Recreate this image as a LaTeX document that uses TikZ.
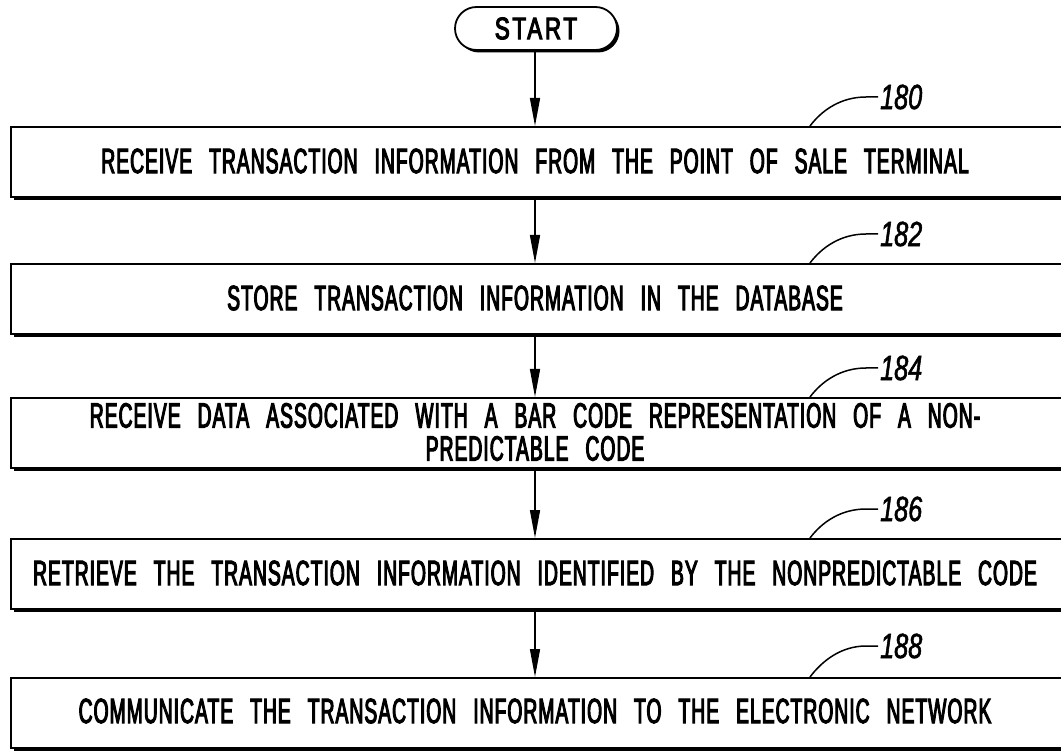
\documentclass[tikz,border=0pt]{standalone}
\usepackage{fontspec}
\setmainfont{Liberation Sans}[FakeStretch=0.55, LetterSpace=3, FakeBold=3]
\newfontfamily\startfont{Liberation Sans}[FakeStretch=0.72, LetterSpace=9, FakeBold=3.5]
\newfontfamily\reffont{Liberation Sans}[FakeStretch=0.72, FakeBold=1.5]
\usetikzlibrary{arrows.meta,shadows,calc}

\tikzset{
  stepbox/.style={draw, line width=1.8pt, fill=white, inner sep=0pt,
    minimum width=1065pt, minimum height=70pt, anchor=north west,
    drop shadow={shadow xshift=3.5pt, shadow yshift=-3.5pt, fill=black, opacity=1}},
  steptext/.style={inner sep=0pt, align=center,
    font={\fontsize{35}{33}\selectfont\spaceskip=17pt\relax}},
  terminal/.style={draw, line width=1.8pt, fill=white, rounded corners=21.5pt,
    minimum width=162pt, minimum height=43pt, inner sep=0pt,
    font={\startfont\fontsize{31}{31}\selectfont},
    drop shadow={shadow xshift=2.5pt, shadow yshift=-2.5pt, fill=black, opacity=1}},
  flow/.style={line width=1.5pt, -{Triangle[length=28pt, width=10pt]}},
  reflabel/.style={inner sep=2pt, anchor=west,
    font={\reffont\itshape\fontsize{35}{35}\selectfont}},
  leader/.style={line width=1.5pt}
}

\begin{document}
\begin{tikzpicture}[x=1pt, y=-1pt]
\useasboundingbox (0,0) rectangle (1061,751);

% start terminal
\node[terminal] (start) at (536,28.5) {START};

% process steps
\node[stepbox] (b1) at (10,126) {};
\node[steptext] (t1) at (535,161) {RECEIVE TRANSACTION INFORMATION FROM THE POINT OF SALE TERMINAL};

\node[stepbox] (b2) at (10,263) {};
\node[steptext] (t2) at (535,298) {STORE TRANSACTION INFORMATION IN THE DATABASE};

\node[stepbox] (b3) at (10,397) {};
\node[steptext] (t3) at (535,432) {RECEIVE DATA ASSOCIATED WITH A BAR CODE REPRESENTATION OF A NON-\\PREDICTABLE CODE};

\node[stepbox] (b4) at (10,538) {};
\node[steptext] (t4) at (535,573) {RETRIEVE THE TRANSACTION INFORMATION IDENTIFIED BY THE NONPREDICTABLE CODE};

\node[stepbox] (b5) at (10,677) {};
\node[steptext] (t5) at (535,711) {COMMUNICATE THE TRANSACTION INFORMATION TO THE ELECTRONIC NETWORK};

% flow arrows
\draw[flow] (start.south -| t1) -- (t1 |- b1.north);
\draw[flow] (t1 |- b1.south) -- (t2 |- b2.north);
\draw[flow] (t2 |- b2.south) -- (t3 |- b3.north);
\draw[flow] (t3 |- b3.south) -- (t4 |- b4.north);
\draw[flow] (t4 |- b4.south) -- (t5 |- b5.north);

% reference numerals with leader lines
\node[reflabel] (r1) at (878,97) {180};
\node[reflabel] (r2) at (878,234) {182};
\node[reflabel] (r3) at (878,368) {184};
\node[reflabel] (r4) at (878,509) {186};
\node[reflabel] (r5) at (878,646) {188};

\foreach \r/\b in {r1/b1, r2/b2, r3/b3, r4/b4, r5/b5}{
  \draw[leader] (\r.west) -- ++(-12,0) .. controls +(-25,0) and +(12,-16) .. ($(\b.north west)+(800,0)$);
}
\end{tikzpicture}
\end{document}
